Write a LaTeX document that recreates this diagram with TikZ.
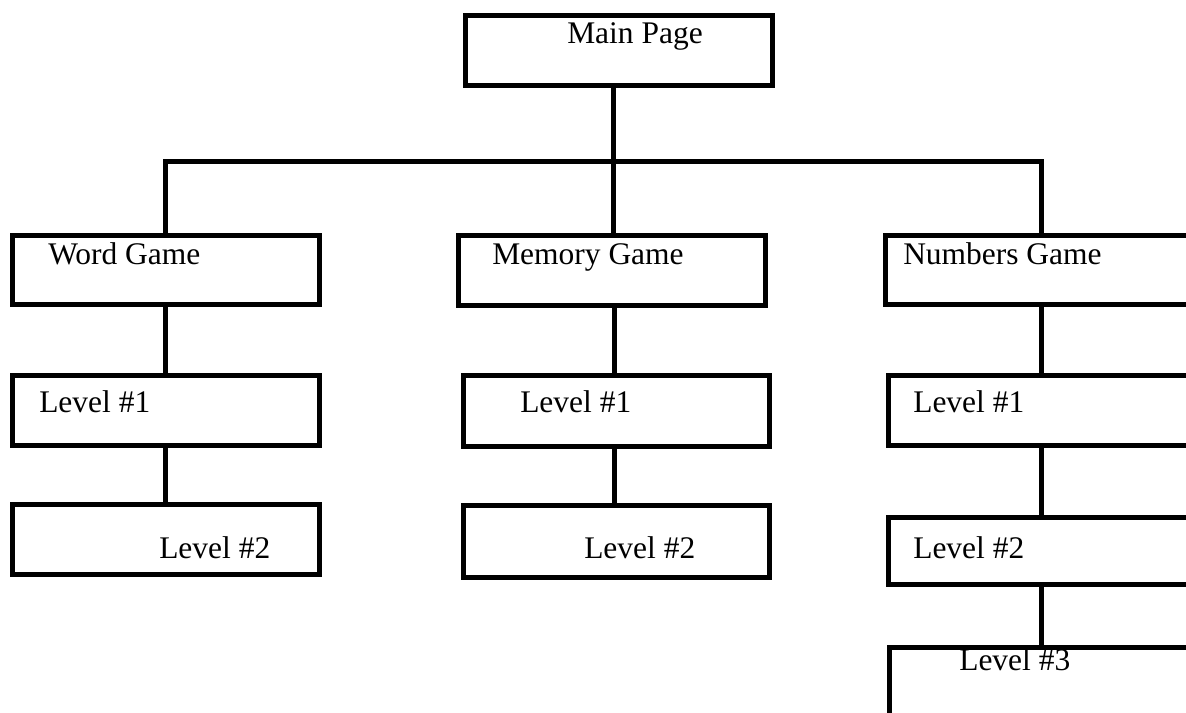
\documentclass[tikz,border=0pt]{standalone}
\usepackage{fontspec}
\setmainfont{Liberation Serif}
\usetikzlibrary{fit}
\begin{document}
\begin{tikzpicture}[x=0.75pt,y=-0.75pt,
  box/.style={draw=black,line width=3.75pt,rectangle,inner sep=0pt},
  wire/.style={draw=black,line width=3.75pt},
  lbl/.style={anchor=base west,inner sep=0pt,font=\fontsize{23.6}{28}\selectfont}]
\useasboundingbox (0,0) rectangle (1186,713);
\clip (0,0) rectangle (1186,713);
\fill[white] (0,0) rectangle (1186,713);

% column axes of the connectors
\coordinate (bus) at (613,162);
\coordinate (wx) at (165,162);
\coordinate (mx) at (614,162);
\coordinate (nx) at (1041,162);

% boxes
\node[box,fit={(465.5,15.5) (772,85.5)}] (main) {};
\node[box,fit={(12.5,235.5) (319.5,304.5)}] (word) {};
\node[box,fit={(458.5,235.5) (765.5,305.5)}] (mem) {};
\node[box,fit={(885.5,235.5) (1260,304.5)}] (num) {};
\node[box,fit={(12.5,375.5) (319.5,445.5)}] (w1) {};
\node[box,fit={(463.5,375.5) (769.5,446.5)}] (m1) {};
\node[box,fit={(888.5,375.5) (1260,445.5)}] (n1) {};
\node[box,fit={(12.5,504.5) (319.5,574.5)}] (w2) {};
\node[box,fit={(463.5,505.5) (769.5,577.5)}] (m2) {};
\node[box,fit={(888.5,517.5) (1260,584.5)}] (n2) {};
\node[box,fit={(889.5,647.5) (1260,780)}] (n3) {};

% labels
\node[lbl] (tmain) at (567,44) {Main Page};
\node[lbl] (tword) at (48,265) {Word Game};
\node[lbl] (tmem) at (492,265) {Memory Game};
\node[lbl] (tnum) at (903,265) {Numbers Game};
\node[lbl] (tw1) at (39,412) {Level \#1};
\node[lbl] (tm1) at (520,412) {Level \#1};
\node[lbl] (tn1) at (913,412) {Level \#1};
\node[lbl] (tw2) at (159,558) {Level \#2};
\node[lbl] (tm2) at (584,558) {Level \#2};
\node[lbl] (tn2) at (913,558) {Level \#2};
\node[lbl] (tn3) at (959,670) {Level \#3};

% tree connectors
\draw[wire] (main.south -| bus) -- (bus);
\draw[wire] (word.north -| wx) -- (wx) -- (nx) -- (num.north -| nx);
\draw[wire] (mem.north -| bus) -- (bus);
\draw[wire] (word.south -| wx) -- (w1.north -| wx);
\draw[wire] (w1.south -| wx) -- (w2.north -| wx);
\draw[wire] (mem.south -| mx) -- (m1.north -| mx);
\draw[wire] (m1.south -| mx) -- (m2.north -| mx);
\draw[wire] (num.south -| nx) -- (n1.north -| nx);
\draw[wire] (n1.south -| nx) -- (n2.north -| nx);
\draw[wire] (n2.south -| nx) -- (n3.north -| nx);
\end{tikzpicture}
\end{document}
